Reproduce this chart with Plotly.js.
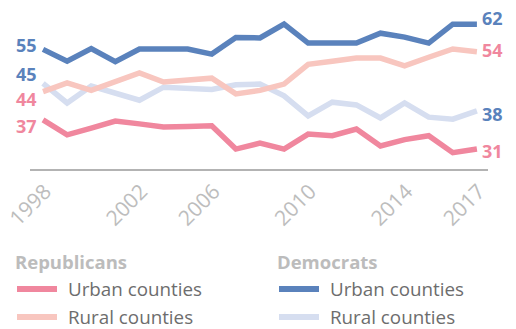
<!DOCTYPE html>
<html>
<head>
<meta charset="utf-8">
<script src="https://cdn.plot.ly/plotly-3.0.1.min.js"></script>
<style>
html,body{margin:0;padding:0;background:#fff;}
#chart{width:516px;height:329px;}
</style>
</head>
<body>
<div id="chart"></div>
<script>
// 19 survey points
const years = ['1998','1999','2000','2001','2002','2003','2005','2006','2007','2008',
               '2009','2010','2011','2012','2013','2014','2015','2016','2017'];
const tickYears = ['1998','2002','2006','2010','2014','2017'];

const demUrban = [54.8, 51.8, 55.0, 51.7, 54.9, 54.9, 54.9, 53.6, 57.8, 57.7, 61.2, 56.4, 56.4, 56.4, 58.9, 57.9, 56.4, 61.2, 61.2];
const demRural = [46.2, 41.2, 45.5, 43.7, 41.9, 45.2, 45.0, 44.6, 45.8, 46.0, 43.0, 37.9, 41.4, 40.7, 37.4, 41.2, 37.6, 37.1, 39.2];
const repRural = [44.1, 46.3, 44.4, 46.6, 48.8, 46.5, 47.0, 47.5, 43.5, 44.4, 46.0, 51.0, 51.8, 52.6, 52.6, 50.6, 52.8, 54.9, 54.2];
const repUrban = [36.9, 33.1, 34.8, 36.6, 35.9, 35.1, 35.2, 35.4, 29.5, 31.0, 29.5, 33.3, 32.9, 34.6, 30.3, 31.9, 32.9, 28.6, 29.5];

// end labels as printed on the chart
const seriesNames = ['Democrats, urban', 'Democrats, rural', 'Republicans, rural', 'Republicans, urban'];
const startLabels = ['55', '45', '44', '37'];
const endLabels   = ['62', '38', '54', '31'];

const legendGroups = ['Republicans', 'Democrats'];
const legendItems = ['Urban counties', 'Rural counties'];

const C = {
  demUrban: '#5a82bc',
  demRural: '#d6def0',
  repUrban: '#f0879e',
  repRural: '#f8c6bf'
};
const FONT = '"Open Sans", "Noto Sans", sans-serif';

const series = [
  {name: seriesNames[1], y: demRural, color: C.demRural, lab: C.demUrban, s: startLabels[1], e: endLabels[1], ys: 9.5, ye: -3},
  {name: seriesNames[2], y: repRural, color: C.repRural, lab: C.repUrban, s: startLabels[2], e: endLabels[2], ys: -7.5, ye: 2},
  {name: seriesNames[3], y: repUrban, color: C.repUrban, lab: C.repUrban, s: startLabels[3], e: endLabels[3], ys: -6, ye: -2},
  {name: seriesNames[0], y: demUrban, color: C.demUrban, lab: C.demUrban, s: startLabels[0], e: endLabels[0], ys: 4, ye: 6}
];

const traces = series.map(s => ({
  type: 'scatter', mode: 'lines', x: years, y: s.y, name: s.name,
  line: {color: s.color, width: 5.5, shape: 'linear'},
  hoverinfo: 'skip', showlegend: false
}));

// on a category axis, annotations take the category's serial number
const first = 0, last = years.length - 1;
const annotations = [];
series.forEach(s => {
  annotations.push({
    x: first, y: s.y[first], xref: 'x', yref: 'y', text: '<b>' + s.s + '</b>', showarrow: false,
    xanchor: 'right', yanchor: 'middle', xshift: -5, yshift: s.ys, borderpad: 0,
    font: {family: FONT, size: 18, color: s.lab}
  });
  annotations.push({
    x: last, y: s.y[last], xref: 'x', yref: 'y', text: '<b>' + s.e + '</b>', showarrow: false,
    xanchor: 'left', yanchor: 'middle', xshift: 4, yshift: s.ye, borderpad: 0,
    font: {family: FONT, size: 18, color: s.lab}
  });
});

// legend built from text + sample lines (plot area: left 30px, bottom 169px, 458x163)
const PL = 30, PB = 169, PW = 458, PH = 163;
const px = v => (v - PL) / PW;
const py = v => (PB - v) / PH;
const groupX = [15, 277];
const legendLineColors = [[C.repUrban, C.repRural], [C.demUrban, C.demRural]];
const shapes = [];
legendGroups.forEach((g, gi) => {
  annotations.push({
    xref: 'paper', yref: 'paper', x: px(groupX[gi]), y: py(261), text: '<b>' + g + '</b>', showarrow: false,
    xanchor: 'left', yanchor: 'middle', xshift: -2,
    font: {family: FONT, size: 18.5, color: '#bcbcbc'}
  });
  legendItems.forEach((it, ii) => {
    const yy = 289 + ii * 28;
    annotations.push({
      xref: 'paper', yref: 'paper', x: px(groupX[gi] + 53), y: py(yy), text: it, showarrow: false,
      xanchor: 'left', yanchor: 'middle', xshift: -2,
      font: {family: FONT, size: 18.8, color: '#6d6d6d'}
    });
    shapes.push({
      type: 'line', xref: 'paper', yref: 'paper',
      x0: px(groupX[gi] + 2), x1: px(groupX[gi] + 42), y0: py(yy), y1: py(yy),
      line: {color: legendLineColors[gi][ii], width: 6}
    });
  });
});

const layout = {
  width: 516, height: 329,
  margin: {l: PL, r: 516 - PL - PW, t: PB - PH, b: 329 - PB},
  paper_bgcolor: '#ffffff', plot_bgcolor: '#ffffff',
  showlegend: false,
  xaxis: {
    type: 'category', range: [-0.54, 18.46],
    showgrid: false, zeroline: false,
    showline: true, linecolor: '#b3b3b3', linewidth: 2,
    ticks: '', tickmode: 'array', tickvals: tickYears, ticktext: tickYears,
    tickangle: -45, ticklabelshift: 2, ticklabelstandoff: 0,
    tickfont: {family: FONT, size: 21, color: '#bdbdbd'}
  },
  yaxis: {
    range: [24.45, 65.8], visible: false, showgrid: false, zeroline: false
  },
  annotations: annotations,
  shapes: shapes
};

Plotly.newPlot('chart', traces, layout, {displayModeBar: false, staticPlot: true});
</script>
</body>
</html>
